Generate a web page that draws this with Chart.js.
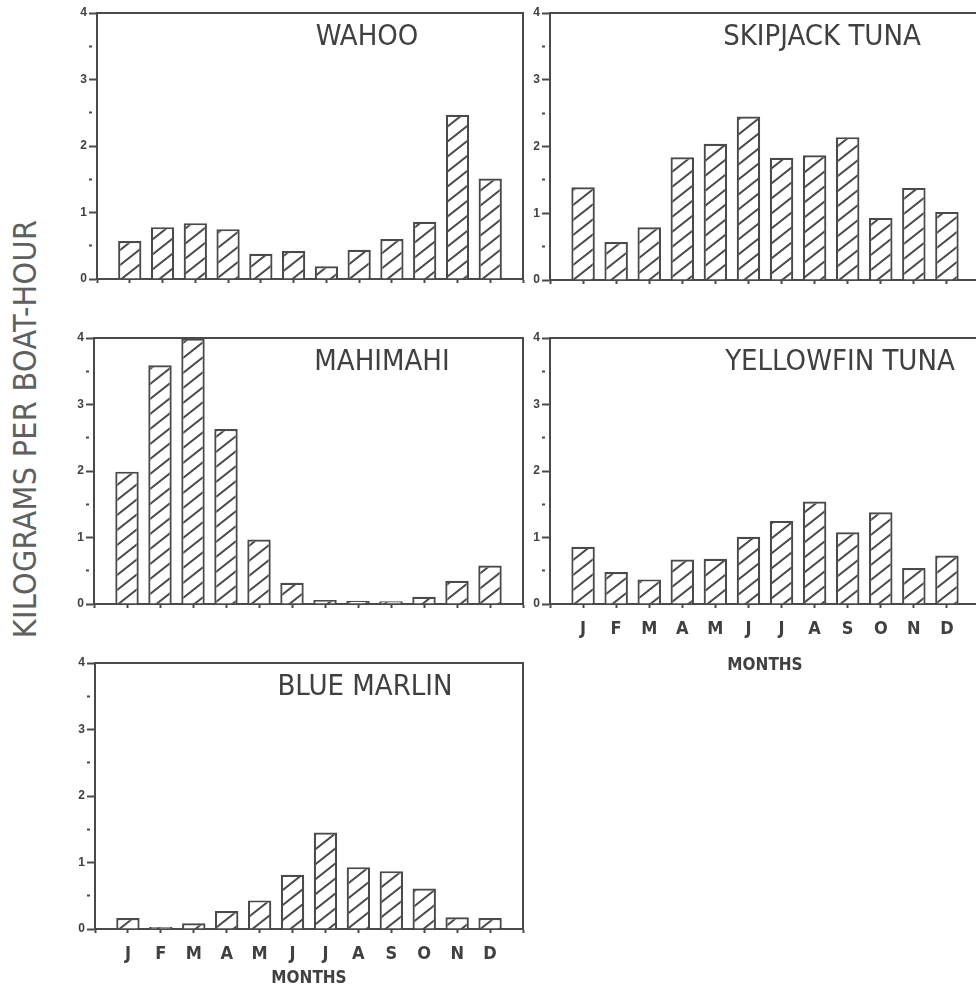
<!DOCTYPE html>
<html>
<head>
<meta charset="utf-8">
<script src="https://cdn.jsdelivr.net/npm/chart.js@4.4.1/dist/chart.umd.min.js"></script>
<style>
  html, body { margin: 0; padding: 0; background: #ffffff; }
  body { width: 976px; height: 988px; position: relative; overflow: hidden; }
  canvas { position: absolute; }
  #ylab {
    position: absolute; left: 25px; top: 429px;
    transform: translate(-50%, -50%) rotate(-90deg);
    white-space: nowrap;
    font-family: "Liberation Sans Narrow", "DejaVu Sans Condensed", Roboto, sans-serif;
    font-size: 32px; color: #606060; letter-spacing: 0.3px;
  }
</style>
</head>
<body>
<div id="ylab"></div>
<script>
// ---------------- data ----------------
const months = ['J', 'F', 'M', 'A', 'M', 'J', 'J', 'A', 'S', 'O', 'N', 'D'];
const yTickLabels = ['0', '1', '2', '3', '4'];
const titles = ['WAHOO', 'SKIPJACK TUNA', 'MAHIMAHI', 'YELLOWFIN TUNA', 'BLUE MARLIN'];
const xAxisTitle = 'MONTHS';
const yAxisTitle = 'KILOGRAMS PER BOAT-HOUR';

const wahoo         = [0.57, 0.78, 0.84, 0.75, 0.38, 0.42, 0.19, 0.44, 0.60, 0.86, 2.47, 1.51];
const skipjackTuna  = [1.39, 0.57, 0.79, 1.84, 2.04, 2.45, 1.83, 1.87, 2.14, 0.93, 1.38, 1.02];
const mahimahi      = [1.99, 3.59, 3.99, 2.63, 0.97, 0.32, 0.06, 0.05, 0.04, 0.11, 0.35, 0.58];
const yellowfinTuna = [0.86, 0.48, 0.37, 0.67, 0.68, 1.01, 1.25, 1.54, 1.08, 1.38, 0.54, 0.73];
const blueMarlin    = [0.165, 0.03, 0.085, 0.27, 0.43, 0.815, 1.45, 0.93, 0.87, 0.61, 0.175, 0.165];

// ---------------- layout & style ----------------
const INK = '#4a4a4a';
const TEXT = '#404040';
const NARROW = '"Liberation Sans Narrow", "DejaVu Sans Condensed", Roboto, sans-serif';
const YW = 44, PT = 10, PR = 6;

const panels = [
  { title: titles[0], values: wahoo,         area: { l: 97,  t: 13,  r: 523, b: 279 }, titleAt: { x: 367, y: 37 },  labels: false, xh: 12 },
  { title: titles[1], values: skipjackTuna,  area: { l: 550, t: 13,  r: 980, b: 280 }, titleAt: { x: 822, y: 37 },  labels: false, xh: 12 },
  { title: titles[2], values: mahimahi,      area: { l: 94,  t: 338, r: 523, b: 604 }, titleAt: { x: 382, y: 362 }, labels: false, xh: 12 },
  { title: titles[3], values: yellowfinTuna, area: { l: 550, t: 338, r: 980, b: 604 }, titleAt: { x: 840, y: 362 }, labels: true,  xh: 72 },
  { title: titles[4], values: blueMarlin,    area: { l: 95,  t: 663, r: 523, b: 929 }, titleAt: { x: 365, y: 687 }, labels: true,  xh: 60 }
];

document.getElementById('ylab').textContent = yAxisTitle;

function makeHatch() {
  const w = 19, h = 15;
  const c = document.createElement('canvas');
  c.width = w; c.height = h;
  const g = c.getContext('2d');
  g.fillStyle = '#ffffff';
  g.fillRect(0, 0, w, h);
  g.strokeStyle = INK;
  g.lineWidth = 2;
  g.beginPath();
  for (const [dx, dy] of [[0, 0], [-w, 0], [w, 0], [0, -h], [0, h]]) {
    g.moveTo(dx, h + dy);
    g.lineTo(w + dx, dy);
  }
  g.stroke();
  return g.createPattern(c, 'repeat');
}
const hatch = makeHatch();

const framePlugin = {
  id: 'frame',
  afterDraw(chart) {
    const { ctx, chartArea: a } = chart;
    ctx.save();
    ctx.strokeStyle = INK;
    ctx.lineWidth = 2;
    ctx.beginPath();
    ctx.moveTo(a.left, a.top);
    ctx.lineTo(a.right, a.top);
    ctx.lineTo(a.right, a.bottom);
    ctx.stroke();
    ctx.restore();
  }
};

const titlePlugin = {
  id: 'panelTitle',
  afterDraw(chart, args, opts) {
    const ctx = chart.ctx;
    ctx.save();
    ctx.font = '29px ' + NARROW;
    ctx.fillStyle = TEXT;
    ctx.textAlign = 'center';
    ctx.textBaseline = 'middle';
    ctx.fillText(opts.text, opts.x, opts.y);
    ctx.restore();
  }
};

panels.forEach(p => {
  const cv = document.createElement('canvas');
  const left = p.area.l - YW;
  const top = p.area.t - PT;
  const width = p.area.r - p.area.l + YW + PR;
  const height = p.area.b - p.area.t + PT + p.xh;
  cv.width = width; cv.height = height;
  cv.style.left = left + 'px'; cv.style.top = top + 'px';
  cv.style.width = width + 'px'; cv.style.height = height + 'px';
  document.body.appendChild(cv);

  new Chart(cv, {
    type: 'bar',
    data: {
      datasets: [{
        data: p.values.map((v, i) => ({ x: i + 1, y: v })),
        backgroundColor: hatch,
        borderColor: INK,
        borderWidth: 2.2,
        borderSkipped: 'start',
        barPercentage: 0.71,
        categoryPercentage: 1
      }]
    },
    options: {
      responsive: false,
      animation: false,
      devicePixelRatio: 1,
      layout: { padding: { top: PT, right: PR, left: 0, bottom: 0 } },
      plugins: {
        legend: { display: false },
        tooltip: { enabled: false },
        panelTitle: { text: p.title, x: p.titleAt.x - left, y: p.titleAt.y - top }
      },
      scales: {
        x: {
          type: 'linear', min: 0, max: 13, offset: false,
          afterFit: s => { s.height = p.xh; s.paddingLeft = 0; s.paddingRight = 0; },
          border: { color: INK, width: 2 },
          grid: { offset: false, drawOnChartArea: false, drawTicks: true, tickLength: 4, tickColor: INK, tickWidth: 2 },
          ticks: {
            stepSize: 1, autoSkip: false, maxRotation: 0, padding: 11,
            color: TEXT,
            font: { family: NARROW, size: 18, weight: 'bold' },
            callback: v => (p.labels && v >= 1 && v <= 12) ? months[v - 1] : ''
          },
          title: {
            display: p.labels, text: xAxisTitle, color: TEXT,
            font: { family: NARROW, size: 17, weight: 'bold' },
            padding: { top: 0, bottom: 0 }
          }
        },
        y: {
          min: 0, max: 4,
          afterFit: s => { s.width = YW; s.paddingTop = 0; s.paddingBottom = 0; },
          border: { color: INK, width: 2 },
          grid: {
            drawOnChartArea: false, drawTicks: true, tickLength: 8, tickColor: INK, tickWidth: 2,
            tickBorderDash: c => (c.tick && !Number.isInteger(c.tick.value)) ? [3, 30] : []
          },
          ticks: {
            stepSize: 0.5, padding: 2, color: TEXT,
            font: { family: '"Liberation Sans", Arial, sans-serif', size: 12, weight: 'bold' },
            callback: v => Number.isInteger(v) ? yTickLabels[v] : ''
          }
        }
      }
    },
    plugins: [framePlugin, titlePlugin]
  });
});
</script>
</body>
</html>
